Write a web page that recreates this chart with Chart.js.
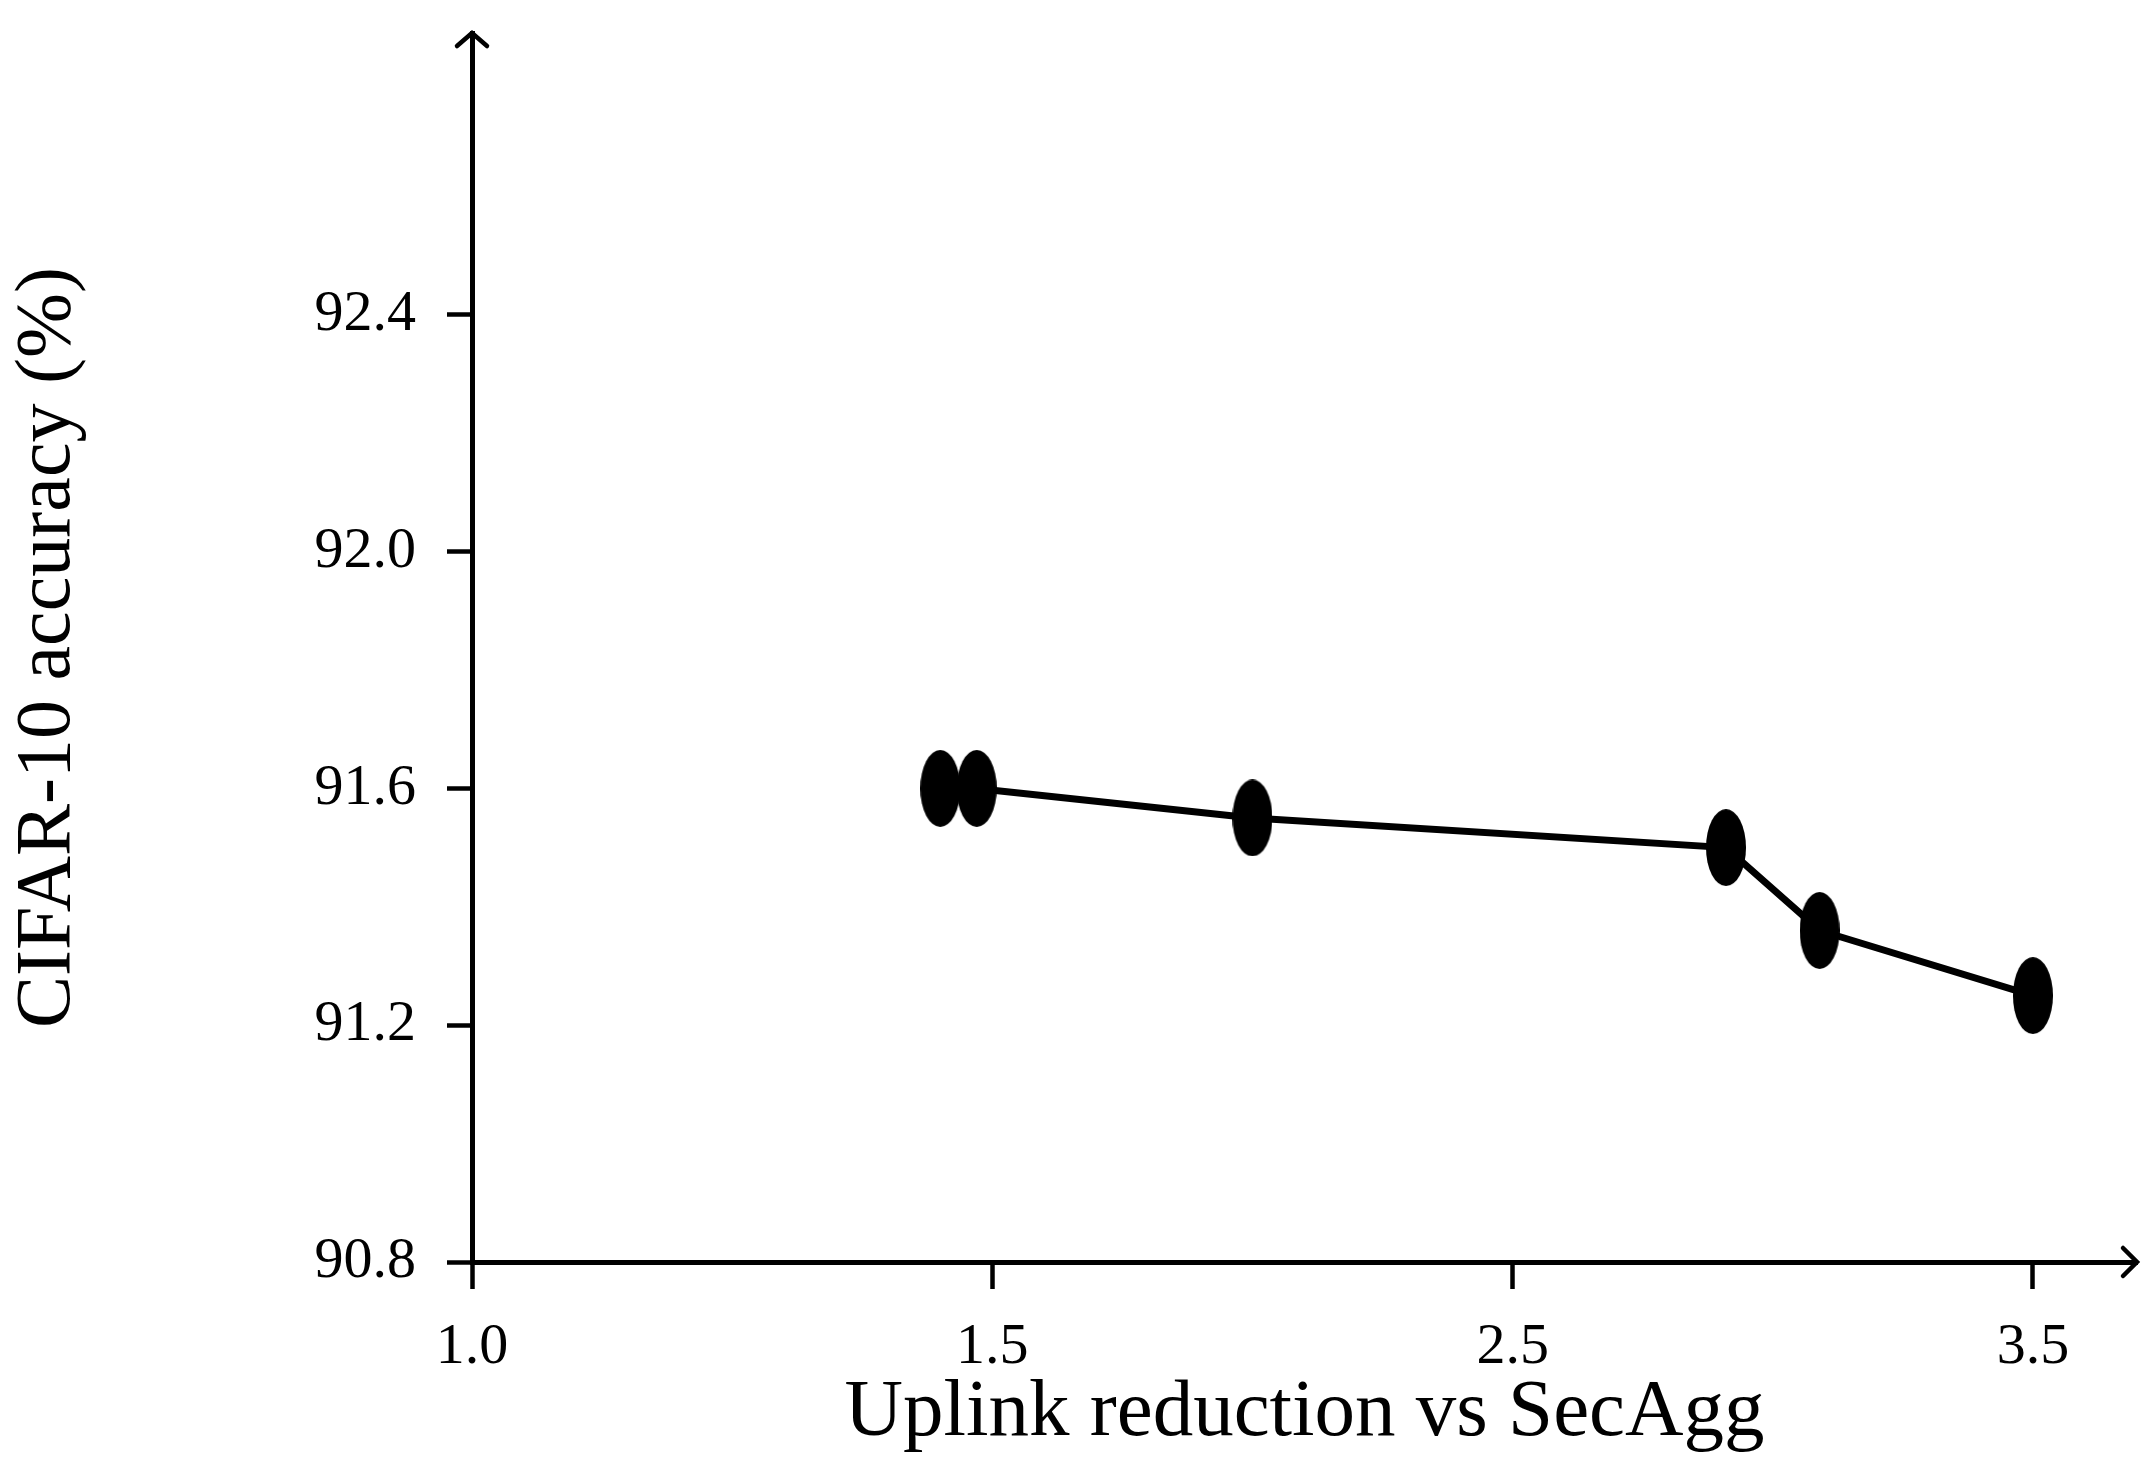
<!DOCTYPE html>
<html>
<head>
<meta charset="utf-8">
<script src="https://cdn.jsdelivr.net/npm/chart.js@4.4.1/dist/chart.umd.min.js"></script>
<style>
  body { margin: 0; background: #fff; }
  #wrap { width: 2152px; height: 1474px; }
</style>
</head>
<body>
<div id="wrap"><canvas id="myChart" width="2152" height="1474"></canvas></div>
<script>
// data
const reductions = [1.45, 1.485, 2.0, 2.91, 3.09, 3.5];   // uplink reduction vs SecAgg
const accuracy = [91.60, 91.60, 91.55, 91.50, 91.36, 91.25]; // CIFAR-10 accuracy (%)
const xTickLabels = ['1.0', '1.5', '2.5', '3.5'];          // equally spaced on the axis
const xTickValues = [1.0, 1.5, 2.5, 3.5];
const yTickValues = [90.8, 91.2, 91.6, 92.0, 92.4];

// the x axis puts its labelled values at equal steps, so map a value onto that step index
function xPos(v) {
  for (let i = 0; i < xTickValues.length - 1; i++) {
    const a = xTickValues[i], b = xTickValues[i + 1];
    if (v <= b || i === xTickValues.length - 2) return i + (v - a) / (b - a);
  }
}

const font = 'Liberation Serif, Times New Roman, serif';

// tall ellipse marker
const marker = document.createElement('canvas');
marker.width = 40; marker.height = 77;
const mctx = marker.getContext('2d');
mctx.fillStyle = '#000';
mctx.beginPath();
mctx.ellipse(20, 38.5, 20, 38.5, 0, 0, Math.PI * 2);
mctx.fill();

// open arrow heads at the ends of both axes
const arrows = {
  id: 'arrows',
  afterDraw(chart) {
    const {ctx, chartArea: a} = chart;
    ctx.save();
    ctx.strokeStyle = '#000';
    ctx.lineWidth = 4.5;
    ctx.lineCap = 'round';
    ctx.beginPath();
    ctx.moveTo(a.left - 15, a.top + 13);
    ctx.lineTo(a.left, a.top);
    ctx.lineTo(a.left + 15, a.top + 13);
    ctx.moveTo(a.right - 14, a.bottom - 14);
    ctx.lineTo(a.right, a.bottom);
    ctx.lineTo(a.right - 14, a.bottom + 14);
    ctx.stroke();
    ctx.restore();
  }
};

new Chart(document.getElementById('myChart'), {
  type: 'line',
  data: {
    datasets: [{
      data: reductions.map((r, i) => ({x: xPos(r), y: accuracy[i]})),
      borderColor: '#000',
      borderWidth: 7,
      tension: 0,
      pointStyle: marker,
      pointRadius: 20
    }]
  },
  options: {
    responsive: false,
    animation: false,
    layout: { autoPadding: false, padding: { top: 33, right: 15, left: 0, bottom: 0 } },
    plugins: { legend: { display: false }, tooltip: { enabled: false } },
    scales: {
      x: {
        type: 'linear',
        min: 0,
        max: 3.2,
        afterFit: s => { s.height = 212; s.paddingLeft = 0; s.paddingRight = 0; },
        afterBuildTicks: s => { s.ticks = xTickValues.map((v, i) => ({value: i})); },
        grid: { drawOnChartArea: false, drawTicks: true, tickLength: 27, tickWidth: 4.5, tickColor: '#000' },
        border: { display: true, color: '#000', width: 5 },
        ticks: {
          color: '#000',
          padding: 24,
          maxRotation: 0,
          font: { family: font, size: 58 },
          callback: (v, i) => xTickLabels[i]
        },
        title: {
          display: true,
          text: 'Uplink reduction vs SecAgg',
          color: '#000',
          font: { family: font, size: 81 },
          padding: { top: 0, bottom: 12 }
        }
      },
      y: {
        type: 'linear',
        min: 90.8,
        max: 92.876,
        afterFit: s => { s.width = 472; s.paddingTop = 0; s.paddingBottom = 0; },
        afterBuildTicks: s => { s.ticks = yTickValues.map(v => ({value: v})); },
        grid: { drawOnChartArea: false, drawTicks: true, tickLength: 25, tickWidth: 4.5, tickColor: '#000' },
        border: { display: true, color: '#000', width: 5 },
        ticks: {
          color: '#000',
          padding: 31,
          font: { family: font, size: 58 },
          callback: v => v.toFixed(1)
        },
        title: {
          display: true,
          text: 'CIFAR-10 accuracy (%)',
          color: '#000',
          font: { family: font, size: 78 },
          padding: { top: 2, bottom: 0 }
        }
      }
    }
  },
  plugins: [arrows]
});
</script>
</body>
</html>
